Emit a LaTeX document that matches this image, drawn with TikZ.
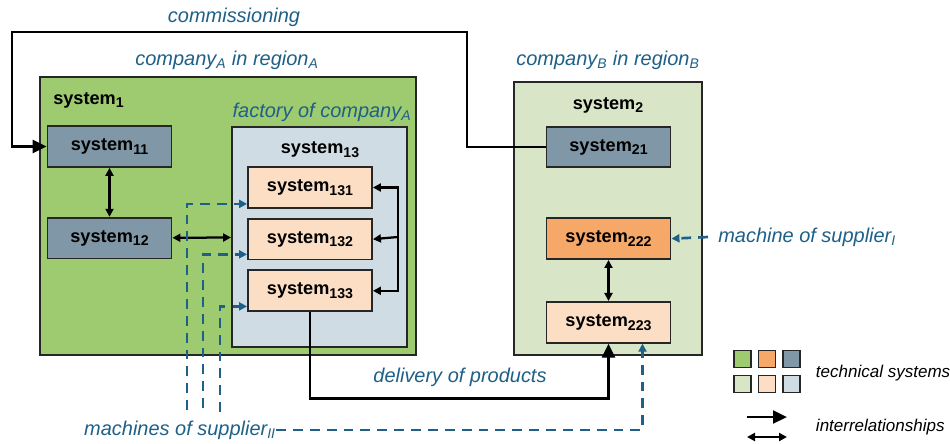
\documentclass[tikz,border=0pt]{standalone}
\usepackage{fontspec}
\setmainfont{Liberation Sans}
\usepackage{tikz}
\usetikzlibrary{positioning, arrows.meta}

\definecolor{sysGreen}{RGB}{158,203,112}
\definecolor{sysOrange}{RGB}{246,168,105}
\definecolor{sysSlate}{RGB}{128,151,168}
\definecolor{subGreen}{RGB}{216,230,199}
\definecolor{subPeach}{RGB}{251,222,195}
\definecolor{subBlue}{RGB}{207,220,228}
\definecolor{noteBlue}{RGB}{30,96,135}

\newcommand{\sysfnt}{\fontsize{12.9}{15}\selectfont\bfseries}
\newcommand{\notefnt}{\fontsize{14.2}{17}\selectfont\itshape}
\newcommand{\legfnt}{\fontsize{12.1}{14}\selectfont\itshape}
\newcommand{\idx}[1]{\raisebox{-0.4ex}{\scalebox{0.78}{#1}}}

\tikzset{
    region/.style={rectangle, draw=black!85, line width=1.3pt, inner sep=0pt},
    sysbox/.style={rectangle, draw=black!85, line width=1.3pt, minimum width=3.1cm, minimum height=1.02cm, font=\sysfnt},
    systitle/.style={font=\sysfnt, inner sep=0pt},
    note/.style={font=\notefnt, text=noteBlue, inner sep=0pt},
    legsq/.style={rectangle, draw=black!85, line width=1.3pt, minimum size=0.425cm, inner sep=0pt},
    flow/.style={-{Triangle[length=0.35cm, width=0.32cm]}, line width=2.1pt},
    arrow/.style={-{Triangle[length=0.2cm, width=0.2cm]}, line width=1.6pt},
    dblarrow/.style={{Triangle[length=0.2cm, width=0.2cm]}-{Triangle[length=0.2cm, width=0.2cm]}, line width=1.6pt},
    supply/.style={-{Triangle[length=0.2cm, width=0.2cm]}, draw=noteBlue, line width=1.9pt, dash pattern=on 7pt off 5pt}
}

\begin{document}
\begin{tikzpicture}[x=0.025cm, y=-0.025cm]
    \useasboundingbox (0,0) rectangle (950,443);

    % Regions
    \node[region, fill=sysGreen, minimum width=9.4cm, minimum height=6.95cm] (S1) at (228,216) {};
    \node[region, fill=subBlue, minimum width=4.375cm, minimum height=5.5cm] (S13) at (319.5,237) {};
    \node[region, fill=subGreen, minimum width=4.7cm, minimum height=6.825cm] (S2) at (608,218.5) {};

    % Titles
    \node[systitle, anchor=west] (T1) at (53,100) {system\idx{1}};
    \node[systitle] (T13) at (320,150) {system\idx{13}};
    \node[systitle] (T2) at (608,105) {system\idx{2}};

    % Systems
    \node[sysbox, fill=sysSlate] (S11) at (109.5,146.5) {system\idx{11}};
    \node[sysbox, fill=sysSlate, below=1.225cm of S11] (S12) {system\idx{12}};
    \node[sysbox, fill=subPeach] (S131) at (310,187.5) {system\idx{131}};
    \node[sysbox, fill=subPeach, below=0.225cm of S131] (S132) {system\idx{132}};
    \node[sysbox, fill=subPeach, below=0.225cm of S132] (S133) {system\idx{133}};
    \node[sysbox, fill=sysSlate] (S21) at (608.5,147) {system\idx{21}};
    \node[sysbox, fill=sysOrange, below=1.225cm of S21] (S222) {system\idx{222}};
    \node[sysbox, fill=subPeach, below=1.025cm of S222] (S223) {system\idx{223}};

    % Labels
    \node[note] (commis) at (234,17) {commissioning};
    \node[note] (compA) at (227,60) {company\textsubscript{A} in region\textsubscript{A}};
    \node[note] (compB) at (608,60) {company\textsubscript{B} in region\textsubscript{B}};
    \node[note] (factA) at (322,112) {factory of company\textsubscript{A}};
    \node[note] (deliv) at (460,377) {delivery of products};
    \node[note] (supII) at (180,430) {machines of supplier\textsubscript{II}};
    \node[note, anchor=west, inner xsep=0.25cm] (supI) at (708,237) {machine of supplier\textsubscript{I}};

    % Edges
    \draw[flow] (S21.west) -| (467,32) -- (12,32) |- (S11.west);
    \draw[flow] (S133.south) -- ++(0,86) -| (S223.south);
    \draw[dblarrow] (S11) -- (S12);
    \draw[dblarrow] (S12) -- (S13);
    \draw[dblarrow] (S222) -- (S223);
    \coordinate (br) at (398,237);
    \draw[arrow] (br) |- (S131.east);
    \draw[arrow] (br) -- (S132.east);
    \draw[arrow] (br) |- (S133.east);

    % Suppliers
    \draw[supply] (supI.west) -- (S222.east);
    \draw[supply] (supII.east) -| ([xshift=0.85cm]S223.south);
    \coordinate (m1) at (187,410);
    \coordinate (m2) at (203,408);
    \coordinate (m3) at (220,412);
    \draw[supply] (m1) |- ([yshift=-0.41cm]S131.west);
    \draw[supply] (m2) |- ([yshift=-0.38cm]S132.west);
    \draw[supply] (m3) |- ([yshift=-0.39cm]S133.west);

    % Legend
    \foreach \c [count=\i] in {sysGreen, sysOrange, sysSlate}
        \node[legsq, fill=\c] (lgA\i) at ({718+24.5*\i},359) {};
    \foreach \c [count=\i] in {subGreen, subPeach, subBlue}
        \node[legsq, fill=\c] (lgB\i) at ({718+24.5*\i},384) {};
    \node[anchor=west, font=\legfnt] (legT) at (811,373) {technical systems};
    \coordinate (la) at (747,417);
    \coordinate (lb) at (787,417);
    \coordinate (lc) at (747,437);
    \coordinate (ld) at (787,437);
    \draw[flow] (la) -- (lb);
    \draw[dblarrow] (lc) -- (ld);
    \node[anchor=west, font=\legfnt] (legI) at (811,427) {interrelationships};
\end{tikzpicture}
\end{document}
